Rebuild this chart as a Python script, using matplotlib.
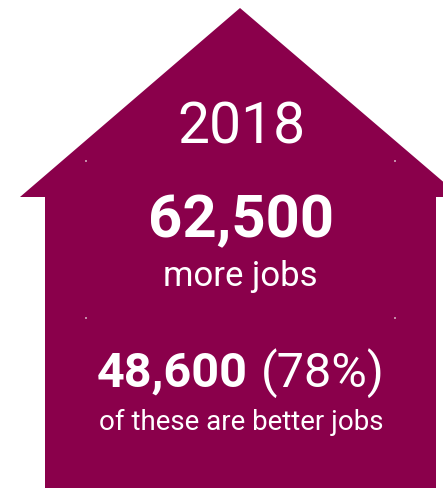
import matplotlib.pyplot as plt
from matplotlib.patches import Polygon

# house outline (pixel space of the 443x488 picture)
house_x = [240, 461, 436, 436, 45, 45, 20]
house_y = [8, 197, 197, 488, 488, 197, 197]

# little marks on the house
dot_x = [86, 395, 86, 395]
dot_y = [161, 161, 318, 318]

year = "2018"
more_jobs = "62,500"
more_label = "more jobs"
better_jobs = "48,600"
better_share = "(78%)"
better_label = "of these are better jobs"

maroon = '#8a004b'

plt.rcParams['font.family'] = ['Roboto', 'DejaVu Sans']

fig = plt.figure(figsize=(4.43, 4.88), dpi=100)
ax = fig.add_axes([0, 0, 1, 1])
ax.set_xlim(0, 443)
ax.set_ylim(488, 0)
ax.axis('off')

ax.add_patch(Polygon(list(zip(house_x, house_y)), closed=True,
                     facecolor=maroon, edgecolor='none'))
ax.scatter(dot_x, dot_y, s=2, color='#c48aa8', marker='s', linewidths=0)

# texts
ax.text(241, 143, year, color='white', fontsize=41, ha='center', va='baseline')
ax.text(241, 237, more_jobs, color='white', fontsize=43, fontweight='bold',
        ha='center', va='baseline')
ax.text(240, 286, more_label, color='white', fontsize=25, ha='center', va='baseline')
ax.text(248, 387, better_jobs, color='white', fontsize=35, fontweight='bold',
        ha='right', va='baseline')
ax.text(261, 387, better_share, color='white', fontsize=35, ha='left', va='baseline')
ax.text(241, 430, better_label, color='white', fontsize=20, ha='center', va='baseline')

fig.savefig('out.png', dpi=100)
